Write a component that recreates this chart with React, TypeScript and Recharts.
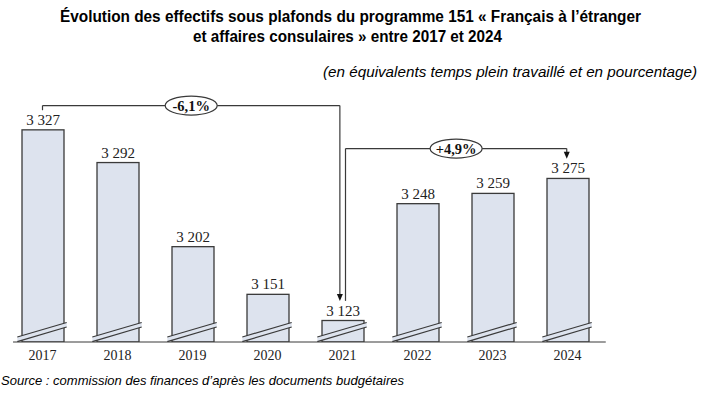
import React from 'react';
import { BarChart, Bar, XAxis, YAxis, LabelList, ReferenceLine, ReferenceDot } from 'recharts';

const years = ['2017', '2018', '2019', '2020', '2021', '2022', '2023', '2024'];
const effectifs = [3327, 3292, 3202, 3151, 3123, 3248, 3259, 3275];
const titleLines = [
  'Évolution des effectifs sous plafonds du programme 151 « Français à l’étranger',
  'et affaires consulaires » entre 2017 et 2024',
];
const subtitle = '(en équivalents temps plein travaillé et en pourcentage)';
const sourceText = 'Source : commission des finances d’après les documents budgétaires';
const variations = [
  { label: '-6,1%', from: 0, to: 4, level: 3353 },
  { label: '+4,9%', from: 4, to: 7, level: 3307 },
];

const rows = years.map((year, i) => ({ year, value: effectifs[i], idx: i }));
const fmt = (v: number) => {
  const s = String(v);
  return s.length > 3 ? s.slice(0, s.length - 3) + ' ' + s.slice(-3) : s;
};

const SERIF = '"Liberation Serif", "Times New Roman", serif';
const SANS = '"Liberation Sans", Arial, sans-serif';
const NARROW = '"Liberation Sans Narrow", "Arial Narrow", "Liberation Sans", Arial, sans-serif';
const INK = '#3a3a3a';

const BrokenBar = (props: any) => {
  const { x, y, width, height } = props;
  const b = y + height;
  const x1 = x - 4.7;
  const x2 = x + width + 2.7;
  return (
    <g>
      <rect x={x} y={y} width={width} height={height} fill="#dde3ee" stroke={INK} strokeWidth={1.3} />
      <polygon points={`${x1},${b - 0.3} ${x2},${b - 15} ${x2},${b - 19.5} ${x1},${b - 5}`} fill="#dde3ee" />
      <line x1={x1} y1={b - 0.3} x2={x2} y2={b - 15} stroke={INK} strokeWidth={1.2} />
      <line x1={x1} y1={b - 5} x2={x2} y2={b - 19.5} stroke={INK} strokeWidth={1.2} />
    </g>
  );
};

const ArrowLine = (props: any) => {
  const { x1, y1, x2, y2 } = props;
  return (
    <g>
      <line x1={x1} y1={y1} x2={x2} y2={y2 - 6} stroke={INK} strokeWidth={1.2} />
      <polygon points={`${x2 - 3},${y2 - 7} ${x2 + 3},${y2 - 7} ${x2},${y2}`} fill="#111" />
    </g>
  );
};

const PlainLine = (props: any) => {
  const { x1, y1, x2, y2 } = props;
  return <line x1={x1} y1={y1} x2={x2} y2={y2} stroke={INK} strokeWidth={1.2} />;
};

const makeOval = (label: string) => (props: any) => {
  const { cx, cy } = props;
  return (
    <g>
      <ellipse cx={cx} cy={cy} rx={26} ry={9.5} fill="#fff" stroke={INK} strokeWidth={1.2} />
      <text x={cx} y={cy + 5} textAnchor="middle" fontFamily={SERIF} fontWeight="bold" fontSize={14.5} fill="#111">
        {label}
      </text>
    </g>
  );
};

export default function App() {
  const annotations: React.ReactNode[] = [];
  variations.forEach((v, k) => {
    const fromX = v.from + (k > 0 ? 0.04 : 0);
    const toX = v.to - (k === 0 ? 0.035 : 0.01);
    const startY = effectifs[v.from] + 21;
    const tipY = effectifs[v.to] + 21;
    annotations.push(
      <ReferenceLine key={`a${k}`} xAxisId="n" ifOverflow="visible"
        segment={[{ x: fromX, y: startY }, { x: fromX, y: v.level }]} shape={PlainLine} />,
      <ReferenceLine key={`b${k}`} xAxisId="n" ifOverflow="visible"
        segment={[{ x: fromX, y: v.level }, { x: toX, y: v.level }]} shape={PlainLine} />,
      <ReferenceLine key={`c${k}`} xAxisId="n" ifOverflow="visible"
        segment={[{ x: toX, y: v.level }, { x: toX, y: tipY }]} shape={ArrowLine} />,
      <ReferenceDot key={`d${k}`} xAxisId="n" ifOverflow="visible"
        x={(fromX + toX) / 2} y={v.level} shape={makeOval(v.label)} />
    );
  });

  return (
    <div style={{ position: 'absolute', left: 0, top: 0, width: 702, height: 395, background: '#fff' }}>
      <BarChart width={702} height={395} data={rows} margin={{ top: 99, right: 97, bottom: 33, left: 5 }}>
        <XAxis dataKey="year" axisLine={false} tickLine={false} height={20} interval={0}
          tick={{ fontFamily: SERIF, fontSize: 14, fill: '#222' }} />
        <XAxis xAxisId="n" dataKey="idx" type="number" domain={[0, years.length - 1]} allowDataOverflow hide
          padding={{ left: 37.5, right: 37.5 }} />
        <YAxis hide domain={[3100, 3360]} allowDataOverflow />
        <Bar dataKey="value" barSize={42} shape={BrokenBar} isAnimationActive={false}>
          <LabelList dataKey="value" position="top" offset={5} formatter={(v: any) => fmt(Number(v))}
            style={{ fontFamily: SERIF, fontSize: 15, fill: '#222' }} />
        </Bar>
        <ReferenceLine xAxisId="n" ifOverflow="visible" shape={PlainLine}
          segment={[{ x: -0.393, y: 3100 }, { x: 7.51, y: 3100 }]} />
        {annotations}
      </BarChart>
      <svg width={702} height={395} style={{ position: 'absolute', left: 0, top: 0, pointerEvents: 'none' }}>
        <text x={350.5} y={22} textAnchor="middle" fontFamily={NARROW} fontWeight="bold" fontSize={16}
          textLength={581} lengthAdjust="spacingAndGlyphs" fill="#000">{titleLines[0]}</text>
        <text x={347.5} y={42} textAnchor="middle" fontFamily={NARROW} fontWeight="bold" fontSize={16}
          textLength={309} lengthAdjust="spacingAndGlyphs" fill="#000">{titleLines[1]}</text>
        <text x={323} y={77} fontFamily={SANS} fontStyle="italic" fontSize={14}
          textLength={374} lengthAdjust="spacingAndGlyphs" fill="#000">{subtitle}</text>
        <text x={1} y={385} fontFamily={SANS} fontStyle="italic" fontSize={13}
          textLength={403} lengthAdjust="spacingAndGlyphs" fill="#000">{sourceText}</text>
      </svg>
    </div>
  );
}
